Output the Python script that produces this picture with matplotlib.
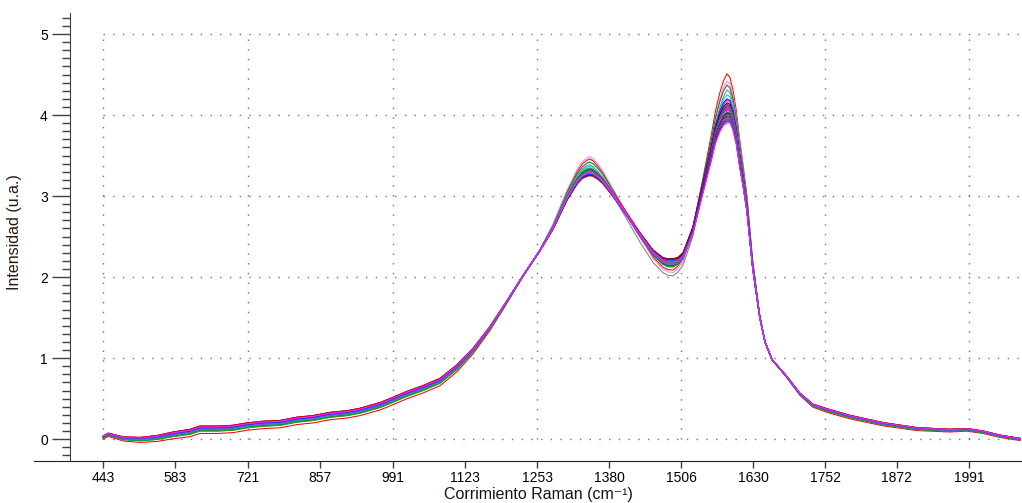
import numpy as np
import matplotlib
matplotlib.use("Agg")
import matplotlib.pyplot as plt
from matplotlib.ticker import FixedLocator, MultipleLocator

# Raman shift (cm-1) and the central spectrum
shift = [443, 453, 482, 515, 548, 579, 611, 630, 663, 693, 720, 750, 782, 814,
         844, 876, 907, 931, 968, 990, 1018, 1047, 1078, 1109, 1138, 1168, 1199,
         1228, 1258, 1281, 1306, 1324, 1333, 1341, 1346, 1352, 1360, 1369, 1387,
         1411, 1434, 1457, 1474, 1483, 1492, 1500, 1509, 1526, 1544, 1559, 1565,
         1573, 1579, 1585, 1590, 1595, 1601, 1607, 1613, 1619, 1629, 1641, 1650,
         1662, 1687, 1709, 1731, 1755, 1793, 1849, 1905, 1959, 1987, 2014, 2041, 2074]
base = [0.025, 0.06, 0.01, 0.0, 0.02, 0.06, 0.09, 0.13, 0.13, 0.14, 0.17, 0.19,
        0.20, 0.24, 0.26, 0.30, 0.32, 0.35, 0.42, 0.48, 0.56, 0.63, 0.72, 0.89,
        1.10, 1.37, 1.70, 2.02, 2.33, 2.60, 2.97, 3.18, 3.25, 3.28, 3.29, 3.28,
        3.24, 3.18, 3.01, 2.77, 2.53, 2.31, 2.21, 2.19, 2.19, 2.21, 2.27, 2.58,
        3.12, 3.57, 3.77, 3.94, 4.03, 4.07, 4.06, 3.96, 3.75, 3.44, 3.17, 2.87,
        2.13, 1.51, 1.20, 0.98, 0.77, 0.56, 0.42, 0.36, 0.28, 0.19, 0.13, 0.11,
        0.12, 0.09, 0.04, 0.0]

# per-spectrum values: D band top, valley, G band top, low-region offset
series_colors = ['red', '#ff80ff', 'green', 'gray', '#00c8ff', 'blue', 'magenta', 'black',
                 '#a00000', '#00b050', '#5050ff', '#ff0080', '#008080', '#c040c0', '#ff4040',
                 '#40a040', '#000080', '#ff00ff', '#00e0e0', '#808080', '#ff6060', '#008000',
                 '#0000c0', '#e000e0', '#40c0c0', '#600000', '#20a020', '#3030ff', '#ff40a0',
                 '#209090', '#c00000', '#a040ff', '#0040ff', '#ff20ff']
d_peak = [3.45, 3.48, 3.41, 3.38, 3.36, 3.30, 3.33, 3.28, 3.31, 3.34, 3.29, 3.32, 3.27,
          3.30, 3.26, 3.31, 3.25, 3.29, 3.28, 3.30, 3.27, 3.32, 3.26, 3.29, 3.27, 3.25,
          3.30, 3.26, 3.28, 3.27, 3.24, 3.29, 3.26, 3.28]
valley = [2.08, 2.05, 2.12, 2.01, 2.16, 2.20, 2.17, 2.19, 2.14, 2.13, 2.18, 2.21, 2.20,
          2.15, 2.19, 2.17, 2.22, 2.18, 2.20, 2.16, 2.19, 2.14, 2.21, 2.18, 2.20, 2.23,
          2.17, 2.19, 2.21, 2.18, 2.22, 2.16, 2.20, 2.19]
g_peak = [4.51, 4.42, 4.37, 4.31, 4.25, 4.20, 4.18, 4.15, 4.13, 4.12, 4.11, 4.10, 4.09,
          4.08, 4.08, 4.07, 4.06, 4.06, 4.05, 4.04, 4.03, 4.03, 4.02, 4.01, 4.00, 3.99,
          3.98, 3.97, 3.96, 3.95, 3.94, 3.93, 3.92, 3.90]
low_off = [-0.06, 0.03, -0.02, -0.01, 0.01, 0.0, 0.03, 0.0, 0.03, -0.03, 0.01, 0.02, -0.01,
           0.02, 0.03, -0.02, 0.0, 0.02, 0.01, -0.01, 0.02, -0.02, 0.01, 0.0, -0.01, 0.01,
           -0.03, 0.0, 0.02, -0.01, 0.03, 0.0, 0.01, 0.02]

tick_labels = [443, 583, 721, 857, 991, 1123, 1253, 1380, 1506, 1630, 1752, 1872, 1991]
grid_x = [443, 721, 991, 1253, 1506, 1752, 1991]

LASER = 1e7 / 532.0  # axis is linear in wavelength (532 nm excitation)


def to_wl(s):
    return 1e7 / (LASER - np.asarray(s, dtype=float))


def from_wl(w):
    return LASER - 1e7 / np.asarray(w, dtype=float)


plt.rcParams['font.family'] = ['Liberation Sans', 'DejaVu Sans']

fig = plt.figure(figsize=(10.22, 5.03), dpi=100)
ax = fig.add_axes([34 / 1022, 42 / 503, 988 / 1022, 448 / 503])
ax.set_xscale('function', functions=(to_wl, from_wl))
ax.set_xlim(307, 2077)
ax.set_ylim(-0.27, 5.26)

x = np.array(shift, dtype=float)
y0 = np.array(base)
ref_d, ref_v, ref_g = 3.28, 2.19, 4.07
anchors = [443, 600, 1100, 1250, 1345, 1420, 1490, 1540, 1585, 1650, 1750, 2074]
for i, c in enumerate(series_colors):
    fd = d_peak[i] / ref_d
    fv = valley[i] / ref_v
    fg = g_peak[i] / ref_g
    fac = np.interp(x, anchors, [1, 1, 1, 1, fd, (fd + fv) / 2, fv, (fv + fg) / 2, fg, 1, 1, 1])
    off = np.interp(x, anchors, [0.4 * low_off[i], low_off[i], low_off[i], 0, 0, 0, 0, 0, 0, 0,
                                 0.5 * low_off[i], 0.3 * low_off[i]])
    ax.plot(x, y0 * fac + off, color=c, lw=0.75, zorder=3)

# dotted grid limited to the data area
ax.vlines(grid_x, 0, 5, colors='#707070', linestyles=(0, (1, 6)), lw=1, zorder=1)
ax.hlines(range(6), 443, 2077, colors='#707070', linestyles=(0, (1, 6)), lw=1, zorder=1)

for s in ['top', 'right']:
    ax.spines[s].set_visible(False)
ax.spines['left'].set_position(('data', 378))
ax.spines['left'].set_color('#404040')
ax.spines['bottom'].set_color('#202020')

ax.xaxis.set_major_locator(FixedLocator(tick_labels))
ax.set_xticklabels([str(t) for t in tick_labels])
ax.xaxis.set_minor_locator(FixedLocator([]))
ax.yaxis.set_major_locator(FixedLocator([0, 1, 2, 3, 4, 5]))
ax.yaxis.set_minor_locator(MultipleLocator(0.1))
ax.tick_params(axis='x', which='major', direction='out', length=5, width=1,
               color='#404040', labelsize=10, pad=2)
ax.tick_params(axis='y', which='major', direction='out', length=13, width=1,
               color='#404040', labelsize=10, pad=3)
ax.tick_params(axis='y', which='minor', direction='out', length=6, width=1, color='#404040')

fig.text(538 / 1022, 1 - 495 / 503, 'Corrimiento Raman (cm\u207b\u00b9)', ha='center',
         va='center', fontsize=11.5, color='#201010')
fig.text(15 / 1022, 1 - 232 / 503, 'Intensidad (u.a.)', ha='center', va='center',
         rotation=90, fontsize=11.5, color='#2a1810')

fig.savefig('out.png', dpi=100)
